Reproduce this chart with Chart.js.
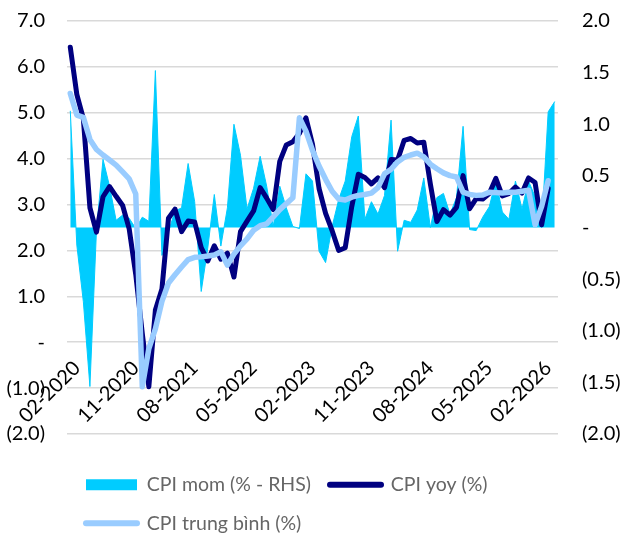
<!DOCTYPE html>
<html lang="vi">
<head>
<meta charset="UTF-8" />
<title>CPI</title>
<script src="https://cdn.jsdelivr.net/npm/chart.js"></script>
<style>
  html, body { margin: 0; padding: 0; background: #fff; }
  #wrap { width: 622px; height: 538px; }
</style>
</head>
<body>
<div id="wrap"><canvas id="cpiChart" width="622" height="538"></canvas></div>
<script>
  // months Jan-2020 .. Mar-2026
  const months = [
    '01-2020','02-2020','03-2020','04-2020','05-2020','06-2020','07-2020','08-2020','09-2020','10-2020','11-2020','12-2020',
    '01-2021','02-2021','03-2021','04-2021','05-2021','06-2021','07-2021','08-2021','09-2021','10-2021','11-2021','12-2021',
    '01-2022','02-2022','03-2022','04-2022','05-2022','06-2022','07-2022','08-2022','09-2022','10-2022','11-2022','12-2022',
    '01-2023','02-2023','03-2023','04-2023','05-2023','06-2023','07-2023','08-2023','09-2023','10-2023','11-2023','12-2023',
    '01-2024','02-2024','03-2024','04-2024','05-2024','06-2024','07-2024','08-2024','09-2024','10-2024','11-2024','12-2024',
    '01-2025','02-2025','03-2025','04-2025','05-2025','06-2025','07-2025','08-2025','09-2025','10-2025','11-2025','12-2025',
    '01-2026','02-2026','03-2026'
  ];
  const shownMonths = ['02-2020','11-2020','08-2021','05-2022','02-2023','11-2023','08-2024','05-2025','02-2026'];

  // CPI mom (% - RHS)
  const cpiMom = [
    1.13, -0.17, -0.72, -1.54, -0.03, 0.66, 0.40, 0.07, 0.12, 0.09, -0.01, 0.10,
    0.06, 1.52, -0.27, -0.04, 0.16, 0.19, 0.62, 0.25, -0.62, -0.20, 0.32, -0.18,
    0.19, 1.00, 0.70, 0.18, 0.38, 0.69, 0.40, 0.01, 0.40, 0.19, 0.01, -0.01,
    0.52, 0.45, -0.23, -0.34, 0.01, 0.27, 0.45, 0.88, 1.08, 0.08, 0.25, 0.13,
    0.31, 1.04, -0.23, 0.07, 0.05, 0.17, 0.48, 0.00, 0.29, 0.33, 0.13, 0.29,
    0.98, -0.02, -0.03, 0.10, 0.20, 0.45, 0.15, 0.08, 0.45, 0.18, 0.45, 0.30,
    0.00, 1.12, 1.22
  ];
  // CPI yoy (%)
  const cpiYoy = [
    6.43, 5.40, 4.87, 2.93, 2.40, 3.17, 3.39, 3.18, 2.98, 2.47, 1.48, 0.19,
    -0.97, 0.70, 1.16, 2.70, 2.90, 2.41, 2.64, 2.62, 2.06, 1.77, 2.10, 1.81,
    1.94, 1.42, 2.41, 2.64, 2.86, 3.37, 3.14, 2.89, 3.94, 4.30, 4.37, 4.55,
    4.89, 4.31, 3.35, 2.81, 2.43, 2.00, 2.06, 2.96, 3.66, 3.59, 3.45, 3.58,
    3.37, 3.98, 3.97, 4.40, 4.44, 4.34, 4.36, 3.45, 2.63, 2.89, 2.77, 2.94,
    3.63, 2.91, 3.13, 3.12, 3.24, 3.57, 3.19, 3.24, 3.38, 3.25, 3.58, 3.48,
    2.56, 3.35
  ];
  // CPI trung bình (%)
  const cpiAvg = [
    5.42, 4.95, 4.90, 4.42, 4.20, 4.08, 3.97, 3.86, 3.71, 3.56, 3.23, -0.97,
    -0.14, 0.29, 0.89, 1.29, 1.47, 1.64, 1.80, 1.85, 1.86, 1.88, 1.90, 1.97,
    1.68, 1.92, 2.10, 2.25, 2.44, 2.54, 2.58, 2.73, 2.89, 3.02, 3.15, 4.89,
    4.60, 4.18, 3.84, 3.55, 3.29, 3.12, 3.10, 3.16, 3.20, 3.22, 3.25, 3.37,
    3.67, 3.77, 3.93, 4.03, 4.08, 4.12, 4.04, 3.88, 3.78, 3.69, 3.63, 3.60,
    3.27, 3.22, 3.20, 3.21, 3.27, 3.26, 3.25, 3.27, 3.27, 3.29, 3.31, 2.56,
    2.96, 3.52
  ];

  const CYAN = '#00CCFF', NAVY = '#000080', LIGHT = '#99CCFF';
  const FONT = { family: 'Lato, "Liberation Sans", sans-serif', size: 20 };

  // accounting style: 0 -> "-", negatives in brackets
  const fmt = v => v === 0 ? '-' : (v < 0 ? '(' + Math.abs(v).toFixed(1) + ')' : v.toFixed(1));

  // fixed axis widths, and no edge padding from labels
  const fitAxis = w => s => {
    s.paddingTop = 0; s.paddingBottom = 0; s.paddingLeft = 0; s.paddingRight = 0;
    if (w) s.width = w;
  };

  new Chart(document.getElementById('cpiChart'), {
    type: 'line',
    data: {
      labels: months,
      datasets: [
        { label: 'CPI mom (% - RHS)', data: cpiMom, yAxisID: 'y1', order: 3,
          backgroundColor: CYAN, borderColor: CYAN, borderWidth: 1,
          fill: 'origin', pointRadius: 0, tension: 0 },
        { label: 'CPI yoy (%)', data: cpiYoy, yAxisID: 'y', order: 2,
          borderColor: NAVY, backgroundColor: NAVY, borderWidth: 5,
          borderJoinStyle: 'round', borderCapStyle: 'round', pointRadius: 0, tension: 0 },
        { label: 'CPI trung bình (%)', data: cpiAvg, yAxisID: 'y', order: 1,
          borderColor: LIGHT, backgroundColor: LIGHT, borderWidth: 5.5,
          borderJoinStyle: 'round', borderCapStyle: 'round', pointRadius: 0, tension: 0 }
      ]
    },
    options: {
      responsive: false,
      animation: false,
      events: [],
      layout: { autoPadding: false, padding: { left: 0, right: 0, top: 21, bottom: -5 } },
      scales: {
        x: {
          offset: true,
          position: { y: 0 },
          afterFit: fitAxis(0),
          grid: { display: false, drawTicks: false },
          border: { display: false },
          ticks: {
            autoSkip: false, minRotation: 45, maxRotation: 45, padding: 14,
            color: '#000', font: FONT,
            callback: (v, i) => shownMonths.includes(months[i]) ? months[i] : null
          }
        },
        y: {
          position: 'left', min: -2, max: 7,
          afterFit: fitAxis(67),
          grid: { color: '#d9d9d9', lineWidth: 1.5, drawTicks: false },
          border: { display: false },
          ticks: { stepSize: 1, padding: 22, color: '#000', font: FONT, callback: v => fmt(v) }
        },
        y1: {
          position: 'right', min: -2, max: 2,
          afterFit: fitAxis(64),
          grid: { display: false, drawTicks: false },
          border: { display: false },
          ticks: { stepSize: 0.5, padding: 24, color: '#000', font: FONT, callback: v => fmt(v) }
        }
      },
      plugins: {
        tooltip: { enabled: false },
        legend: {
          position: 'bottom', align: 'start', fullSize: false,
          title: { display: true, text: '', padding: 0, font: { size: 10, lineHeight: 2.2 } },
          labels: {
            usePointStyle: true, pointStyleWidth: 51, boxHeight: 11,
            padding: 19, color: '#000',
            font: { family: FONT.family, size: 19.5 },
            generateLabels: chart => chart.data.datasets.map((ds, i) => ({
              text: ds.label,
              fillStyle: ds.borderColor,
              strokeStyle: ds.borderColor,
              lineWidth: i === 0 ? 0 : 6,
              lineCap: 'round',
              pointStyle: i === 0 ? 'rect' : 'line',
              hidden: false,
              datasetIndex: i
            }))
          }
        }
      }
    }
  });
</script>
</body>
</html>
